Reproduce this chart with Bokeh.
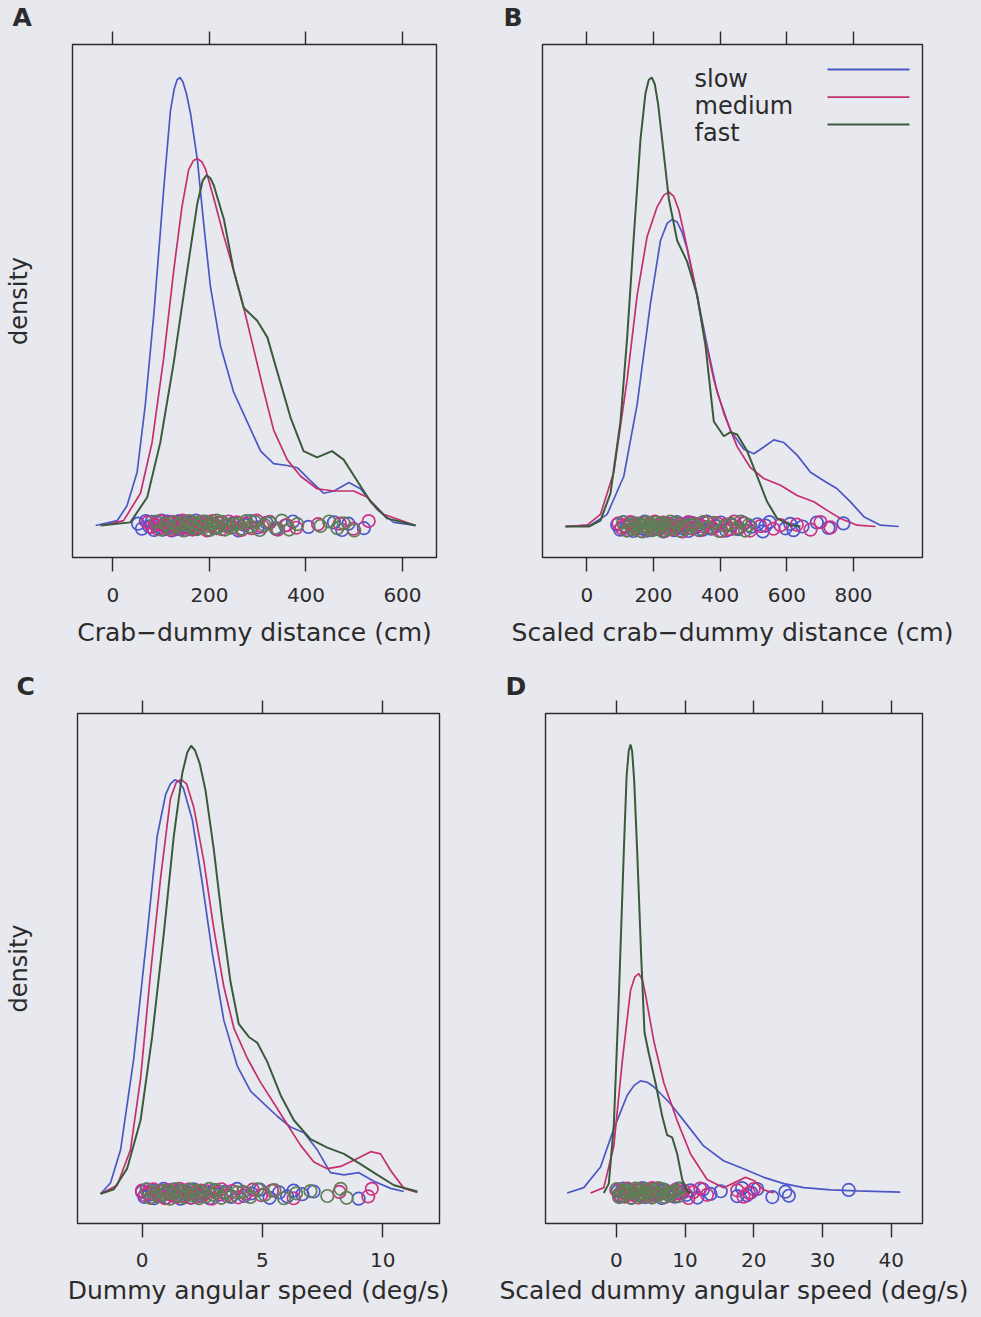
from bokeh.plotting import figure
from bokeh.layouts import column, row
from bokeh.models import Range1d, LinearAxis, FixedTicker, Label, Arrow
from bokeh.embed import file_html
from bokeh.resources import INLINE

BG = "#e8e8ef"
INK = "#2b2b2b"
FONT = "DejaVu Sans"
GROUPS = ["slow", "medium", "fast"]
COLORS = {"slow": "#4b57c4", "medium": "#c42f6c", "fast": "#3b5a3b"}
RUG_COLORS = {"slow": "#4b57cc", "medium": "#cf3184", "fast": "#5f7f55"}

# ---------------- Panel A: Crab-dummy distance (cm) ----------------
A_ticks = [0, 200, 400, 600]
A_slow_x = [-36, 9, 29, 50, 67, 85, 105, 119, 127, 133, 139, 145, 152, 161, 175, 188, 202, 223, 250, 278, 306, 333, 361, 382, 409, 437, 458, 489, 513, 548, 582, 627]
A_slow_d = [0, 0.011, 0.044, 0.119, 0.27, 0.476, 0.749, 0.925, 0.975, 0.995, 1.0, 0.99, 0.965, 0.918, 0.815, 0.674, 0.533, 0.40, 0.298, 0.232, 0.166, 0.138, 0.134, 0.129, 0.10, 0.072, 0.077, 0.096, 0.082, 0.035, 0.007, 0]
A_medium_x = [-20, 22, 57, 81, 105, 126, 143, 157, 167, 175, 184, 192, 209, 230, 250, 271, 292, 313, 333, 361, 389, 423, 458, 499, 527, 561, 627]
A_medium_d = [0, 0.011, 0.072, 0.185, 0.373, 0.57, 0.712, 0.795, 0.815, 0.819, 0.812, 0.795, 0.73, 0.645, 0.57, 0.486, 0.392, 0.298, 0.213, 0.147, 0.11, 0.082, 0.077, 0.077, 0.063, 0.025, 0]
A_fast_x = [-26, 36, 71, 98, 126, 154, 175, 186, 194, 202, 209, 230, 250, 271, 299, 320, 340, 368, 395, 423, 454, 478, 506, 534, 568, 627]
A_fast_d = [0, 0.007, 0.063, 0.185, 0.364, 0.57, 0.72, 0.77, 0.782, 0.775, 0.759, 0.683, 0.57, 0.486, 0.457, 0.42, 0.345, 0.241, 0.166, 0.152, 0.166, 0.147, 0.10, 0.053, 0.016, 0]
A_slow_obs = [52, 60, 68, 75, 80, 85, 89, 93, 97, 101, 104, 107, 110, 113, 116, 119, 122, 125, 128, 131, 134, 137, 140, 143, 146, 150, 154, 158, 162, 167, 172, 178, 184, 191, 198, 206, 215, 225, 236, 248, 260, 272, 285, 300, 318, 338, 357, 373, 405, 458, 475, 488, 520]
A_medium_obs = [72, 80, 87, 93, 99, 105, 110, 115, 120, 125, 130, 135, 140, 145, 150, 155, 160, 165, 170, 175, 180, 185, 190, 195, 200, 206, 212, 218, 225, 232, 240, 248, 257, 266, 276, 287, 298, 310, 325, 342, 360, 380, 425, 470, 498, 530]
A_fast_obs = [90, 100, 110, 118, 126, 133, 140, 146, 152, 158, 164, 170, 175, 180, 185, 190, 195, 200, 205, 210, 215, 220, 226, 232, 238, 245, 252, 260, 268, 276, 285, 294, 304, 314, 325, 337, 350, 365, 382, 430, 448, 465, 478, 500]

# ---------------- Panel B: Scaled crab-dummy distance (cm) ----------------
B_ticks = [0, 200, 400, 600, 800]
B_slow_x = [-64, 11, 61, 111, 151, 191, 221, 241, 256, 271, 286, 301, 331, 361, 391, 431, 471, 501, 531, 561, 591, 631, 671, 711, 751, 791, 831, 881, 936]
B_slow_d = [0, 0.003, 0.027, 0.112, 0.272, 0.497, 0.637, 0.675, 0.684, 0.678, 0.655, 0.618, 0.515, 0.403, 0.299, 0.214, 0.172, 0.162, 0.177, 0.193, 0.187, 0.159, 0.121, 0.102, 0.084, 0.055, 0.022, 0.003, 0]
B_medium_x = [-64, 1, 41, 81, 121, 151, 181, 211, 231, 246, 261, 276, 291, 321, 351, 381, 411, 451, 491, 531, 581, 631, 681, 721, 761, 811, 866]
B_medium_d = [0, 0.003, 0.027, 0.121, 0.327, 0.515, 0.646, 0.712, 0.738, 0.745, 0.735, 0.705, 0.655, 0.552, 0.43, 0.327, 0.252, 0.178, 0.131, 0.107, 0.092, 0.069, 0.055, 0.036, 0.018, 0.003, 0]
B_fast_x = [-64, 6, 41, 71, 101, 121, 141, 161, 176, 186, 195, 204, 214, 226, 246, 271, 301, 331, 356, 381, 411, 431, 451, 481, 511, 541, 571, 611, 641]
B_fast_d = [0, 0, 0.013, 0.074, 0.234, 0.42, 0.646, 0.862, 0.965, 0.995, 1.0, 0.985, 0.94, 0.862, 0.73, 0.637, 0.59, 0.515, 0.403, 0.234, 0.201, 0.21, 0.205, 0.168, 0.112, 0.055, 0.018, 0.003, 0]
B_slow_obs = [91, 100, 110, 120, 130, 140, 150, 158, 166, 174, 182, 190, 198, 206, 214, 222, 230, 238, 246, 254, 262, 270, 278, 287, 296, 305, 315, 325, 336, 348, 360, 373, 387, 402, 418, 435, 453, 472, 492, 512, 528, 536, 548, 596, 610, 620, 647, 690, 725, 770]
B_medium_obs = [95, 104, 113, 122, 131, 140, 148, 156, 164, 172, 180, 188, 196, 204, 212, 220, 228, 236, 244, 252, 260, 268, 277, 286, 295, 305, 315, 326, 338, 350, 363, 377, 391, 405, 418, 430, 442, 455, 470, 490, 521, 560, 581, 630, 671, 701, 731]
B_fast_obs = [110, 120, 130, 138, 146, 153, 160, 166, 172, 178, 184, 190, 196, 202, 208, 214, 220, 227, 234, 242, 250, 259, 268, 278, 288, 299, 310, 322, 335, 349, 364, 380, 397, 415, 432, 448, 462, 475, 485]

# ---------------- Panel C: Dummy angular speed (deg/s) ----------------
C_ticks = [0, 5, 10]
C_slow_x = [-1.72, -1.31, -0.89, -0.34, 0.22, 0.63, 0.98, 1.18, 1.36, 1.54, 1.72, 2.09, 2.5, 2.92, 3.4, 3.96, 4.51, 5.06, 5.62, 6.17, 6.73, 7.28, 7.83, 8.39, 9.01, 9.63, 10.33, 10.88]
C_slow_d = [0, 0.024, 0.098, 0.303, 0.583, 0.798, 0.891, 0.915, 0.924, 0.92, 0.905, 0.835, 0.695, 0.537, 0.387, 0.285, 0.229, 0.201, 0.173, 0.149, 0.136, 0.098, 0.047, 0.042, 0.047, 0.028, 0.012, 0.005]
C_medium_x = [-1.72, -1.03, -0.48, -0.06, 0.35, 0.77, 1.18, 1.42, 1.62, 1.85, 2.15, 2.57, 2.98, 3.4, 3.82, 4.37, 4.93, 5.48, 6.03, 6.59, 7.14, 7.7, 8.25, 8.8, 9.5, 9.91, 10.33, 10.88, 11.44]
C_medium_d = [0, 0.019, 0.098, 0.257, 0.49, 0.704, 0.882, 0.918, 0.925, 0.915, 0.863, 0.742, 0.593, 0.462, 0.369, 0.303, 0.248, 0.202, 0.155, 0.108, 0.071, 0.056, 0.061, 0.075, 0.094, 0.089, 0.052, 0.012, 0.003]
C_fast_x = [-1.72, -1.17, -0.62, -0.06, 0.42, 0.91, 1.32, 1.67, 1.88, 2.04, 2.2, 2.4, 2.64, 2.98, 3.33, 3.68, 4.02, 4.44, 4.79, 5.2, 5.76, 6.31, 7.0, 7.7, 8.39, 9.08, 9.78, 10.47, 11.44]
C_fast_d = [0, 0.01, 0.056, 0.164, 0.35, 0.583, 0.798, 0.938, 0.985, 1.0, 0.99, 0.96, 0.9, 0.77, 0.611, 0.472, 0.379, 0.35, 0.337, 0.295, 0.22, 0.164, 0.122, 0.103, 0.089, 0.066, 0.042, 0.019, 0.005]
C_slow_obs = [0.0, 0.1, 0.2, 0.3, 0.4, 0.5, 0.6, 0.7, 0.8, 0.9, 1.0, 1.1, 1.2, 1.3, 1.4, 1.5, 1.6, 1.7, 1.8, 1.9, 2.0, 2.15, 2.3, 2.45, 2.6, 2.8, 3.0, 3.2, 3.45, 3.7, 3.95, 4.25, 4.55, 4.9, 5.3, 5.7, 6.03, 6.3, 6.66, 7.13, 9.0]
C_medium_obs = [0.0, 0.12, 0.24, 0.36, 0.48, 0.6, 0.72, 0.84, 0.96, 1.08, 1.2, 1.32, 1.44, 1.56, 1.68, 1.8, 1.92, 2.04, 2.16, 2.3, 2.45, 2.6, 2.75, 2.9, 3.1, 3.3, 3.5, 3.75, 4.0, 4.3, 4.6, 4.95, 5.4, 6.3, 8.2, 9.4, 9.55]
C_fast_obs = [0.2, 0.35, 0.5, 0.65, 0.8, 0.92, 1.04, 1.16, 1.28, 1.4, 1.52, 1.64, 1.76, 1.88, 2.0, 2.12, 2.24, 2.36, 2.5, 2.65, 2.8, 2.95, 3.1, 3.3, 3.5, 3.7, 3.95, 4.2, 4.5, 4.8, 5.1, 5.5, 5.9, 6.4, 7.0, 7.7, 8.25, 8.5]

# ---------------- Panel D: Scaled dummy angular speed (deg/s) ----------------
D_ticks = [0, 10, 20, 30, 40]
D_slow_x = [-7.14, -4.73, -2.3, -0.36, 1.59, 2.6, 3.52, 4.5, 5.45, 7.88, 10.3, 12.7, 15.6, 18.5, 21.45, 24.36, 27.3, 31.2, 35.0, 41.3]
D_slow_d = [0, 0.012, 0.058, 0.143, 0.218, 0.24, 0.25, 0.247, 0.237, 0.199, 0.152, 0.105, 0.072, 0.054, 0.035, 0.021, 0.012, 0.007, 0.005, 0.002]
D_medium_x = [-3.75, -1.82, -0.36, 0.86, 2.07, 2.7, 3.27, 3.8, 4.25, 5.45, 6.91, 8.86, 10.8, 13.2, 15.6, 17.6, 18.8, 20.0, 21.45, 22.9]
D_medium_d = [0, 0.012, 0.105, 0.293, 0.452, 0.482, 0.489, 0.475, 0.442, 0.339, 0.246, 0.161, 0.087, 0.03, 0.012, 0.026, 0.035, 0.028, 0.007, 0]
D_fast_x = [-1.82, -1.09, -0.36, 0.36, 1.09, 1.5, 1.8, 2.07, 2.3, 2.6, 3.04, 3.62, 4.1, 4.73, 5.7, 6.68, 7.4, 8.13, 8.86, 9.59, 10.3, 10.8]
D_fast_d = [0, 0.021, 0.152, 0.433, 0.761, 0.93, 0.985, 1.0, 0.985, 0.92, 0.761, 0.527, 0.358, 0.311, 0.246, 0.171, 0.129, 0.124, 0.087, 0.03, 0.004, 0]
D_slow_obs = [0.2, 0.6, 1.0, 1.4, 1.8, 2.2, 2.6, 3.0, 3.4, 3.8, 4.2, 4.6, 5.0, 5.4, 5.8, 6.2, 6.6, 7.0, 7.5, 8.0, 8.5, 9.0, 9.6, 10.2, 10.8, 11.8, 12.6, 13.7, 15.2, 17.6, 18.3, 19.0, 19.6, 20.5, 22.7, 24.6, 25.1, 33.8]
D_medium_obs = [0.0, 0.4, 0.8, 1.2, 1.6, 2.0, 2.4, 2.8, 3.2, 3.6, 4.0, 4.4, 4.8, 5.2, 5.6, 6.0, 6.5, 7.0, 7.5, 8.0, 8.6, 9.2, 9.8, 10.5, 11.2, 12.2, 13.2, 17.6, 18.5, 19.3, 20.0]
D_fast_obs = [0.1, 0.4, 0.7, 1.0, 1.3, 1.6, 1.9, 2.2, 2.5, 2.8, 3.1, 3.4, 3.7, 4.0, 4.3, 4.6, 4.9, 5.2, 5.5, 5.8, 6.1, 6.4, 6.7, 7.0, 7.4, 7.8, 8.2, 8.6, 9.0, 9.3]

# vertical jitter of the rug points (fraction of the density scale)
JITTER = [0.004, -0.007, 0.010, -0.002, 0.008, -0.010, 0.001, 0.006, -0.005, 0.011,
          -0.009, 0.003, -0.001, 0.009, -0.006, 0.005, -0.011, 0.007, -0.003, 0.002,
          -0.008, 0.010, 0.000, -0.004, 0.006, -0.010, 0.008, -0.002, 0.004, -0.007,
          0.011, -0.005, 0.001, 0.009, -0.009, 0.003, -0.006, 0.007, -0.001, 0.005,
          -0.011, 0.002, 0.010, -0.004, 0.006, -0.008, 0.000, 0.009, -0.003, 0.007,
          -0.010, 0.004, -0.006, 0.011, -0.002, 0.008, -0.009, 0.001, -0.005, 0.003]
JITTER_START = {"slow": 0, "medium": 17, "fast": 33}


def make_panel(letter, letter_offset, xlabel, ticks, xr, yr, curves, obs,
               width, height, bl, br, bt, bb, density_label, density_standoff,
               tick_standoff, label_standoff):
    p = figure(width=width, height=height, x_range=Range1d(*xr), y_range=Range1d(*yr),
               output_backend="svg", toolbar_location=None,
               x_axis_location=None, y_axis_location=None,
               min_border_left=bl, min_border_right=br, min_border_top=bt, min_border_bottom=bb,
               background_fill_color=BG, border_fill_color=BG,
               outline_line_color=INK, outline_line_width=1.4)
    p.xgrid.visible = False
    p.ygrid.visible = False

    p.title.text = letter
    p.title.align = "left"
    p.title.offset = letter_offset
    p.title.text_font = FONT
    p.title.text_font_size = "25px"
    p.title.text_font_style = "bold"
    p.title.text_color = INK
    p.title.standoff = 0

    xb = LinearAxis(ticker=FixedTicker(ticks=ticks), axis_label=xlabel)
    xb.axis_line_color = None
    xb.major_tick_in = 0
    xb.major_tick_out = 14
    xb.major_tick_line_color = INK
    xb.major_tick_line_width = 1.4
    xb.minor_tick_line_color = None
    xb.major_label_text_font = FONT
    xb.major_label_text_font_size = "20px"
    xb.major_label_text_color = INK
    xb.major_label_standoff = tick_standoff
    xb.axis_label_text_font = FONT
    xb.axis_label_text_font_size = "25px"
    xb.axis_label_text_font_style = "normal"
    xb.axis_label_text_color = INK
    xb.axis_label_standoff = label_standoff
    p.add_layout(xb, "below")

    xt = LinearAxis(ticker=FixedTicker(ticks=ticks))
    xt.axis_line_color = None
    xt.major_tick_in = 0
    xt.major_tick_out = 13
    xt.major_tick_line_color = INK
    xt.major_tick_line_width = 1.4
    xt.minor_tick_line_color = None
    xt.major_label_text_font_size = "0px"
    xt.major_label_text_color = None
    xt.major_label_standoff = 0
    p.add_layout(xt, "above")

    if density_label:
        yl = LinearAxis(ticker=FixedTicker(ticks=[]), axis_label="density")
        yl.axis_line_color = None
        yl.major_tick_out = 0
        yl.major_tick_in = 0
        yl.minor_tick_line_color = None
        yl.major_label_text_font_size = "0px"
        yl.major_label_standoff = 0
        yl.axis_label_text_font = FONT
        yl.axis_label_text_font_size = "24px"
        yl.axis_label_text_font_style = "normal"
        yl.axis_label_text_color = INK
        yl.axis_label_standoff = density_standoff
        p.add_layout(yl, "left")

    for g in GROUPS:
        xs = obs[g]
        k = JITTER_START[g]
        ys = [JITTER[(k + i) % len(JITTER)] for i in range(len(xs))]
        p.scatter(xs, ys, marker="circle", size=12.5, fill_color=None,
                  line_color=RUG_COLORS[g], line_width=1.7)
        cx, cd = curves[g]
        p.line(cx, cd, line_color=COLORS[g], line_width=2.0 if g == "fast" else 1.7)
    return p


pA = make_panel("A", -60, "Crab\u2212dummy distance (cm)", A_ticks, (-83.9, 670.5), (-0.0714, 1.0737),
                {"slow": (A_slow_x, A_slow_d), "medium": (A_medium_x, A_medium_d), "fast": (A_fast_x, A_fast_d)},
                {"slow": A_slow_obs, "medium": A_medium_obs, "fast": A_fast_obs},
                490, 660, 72, 54, 44, 103, True, 40, 16, 13)

pB = make_panel("B", -39, "Scaled crab\u2212dummy distance (cm)", B_ticks, (-132.9, 1007.0), (-0.069, 1.0735),
                {"slow": (B_slow_x, B_slow_d), "medium": (B_medium_x, B_medium_d), "fast": (B_fast_x, B_fast_d)},
                {"slow": B_slow_obs, "medium": B_medium_obs, "fast": B_fast_obs},
                491, 660, 52, 59, 44, 103, False, 0, 16, 13)

pC = make_panel("C", -61, "Dummy angular speed (deg/s)", C_ticks, (-2.68, 12.36), (-0.0664, 1.072),
                {"slow": (C_slow_x, C_slow_d), "medium": (C_medium_x, C_medium_d), "fast": (C_fast_x, C_fast_d)},
                {"slow": C_slow_obs, "medium": C_medium_obs, "fast": C_fast_obs},
                490, 657, 77, 51, 53, 94, True, 45, 15, 6)

pD = make_panel("D", -40, "Scaled dummy angular speed (deg/s)", D_ticks, (-10.3, 44.54), (-0.0679, 1.069),
                {"slow": (D_slow_x, D_slow_d), "medium": (D_medium_x, D_medium_d), "fast": (D_fast_x, D_fast_d)},
                {"slow": D_slow_obs, "medium": D_medium_obs, "fast": D_fast_obs},
                491, 657, 55, 59, 53, 94, False, 0, 15, 6)

# key (text on the left, line sample on the right) inside panel B
key_text_y = [478.7, 451.5, 424.3]
key_line_y = [488.0, 460.3, 433.0]
for g, ty, ly in zip(GROUPS, key_text_y, key_line_y):
    pB.add_layout(Label(x=152, y=ty, x_units="screen", y_units="screen", text=g,
                        text_font=FONT, text_font_size="24px", text_color=INK,
                        text_baseline="alphabetic", text_align="left"))
    pB.add_layout(Arrow(end=None, x_start=285, y_start=ly, x_end=367, y_end=ly,
                        start_units="screen", end_units="screen",
                        line_color=COLORS[g], line_width=1.8))

layout = column(row(pA, pB), row(pC, pD))
html = file_html(layout, INLINE)
html = html.replace("<head>", "<head><style>html, body {margin:0; padding:0; background:%s; overflow:hidden;}</style>" % BG, 1)
open("out.html", "w").write(html)
